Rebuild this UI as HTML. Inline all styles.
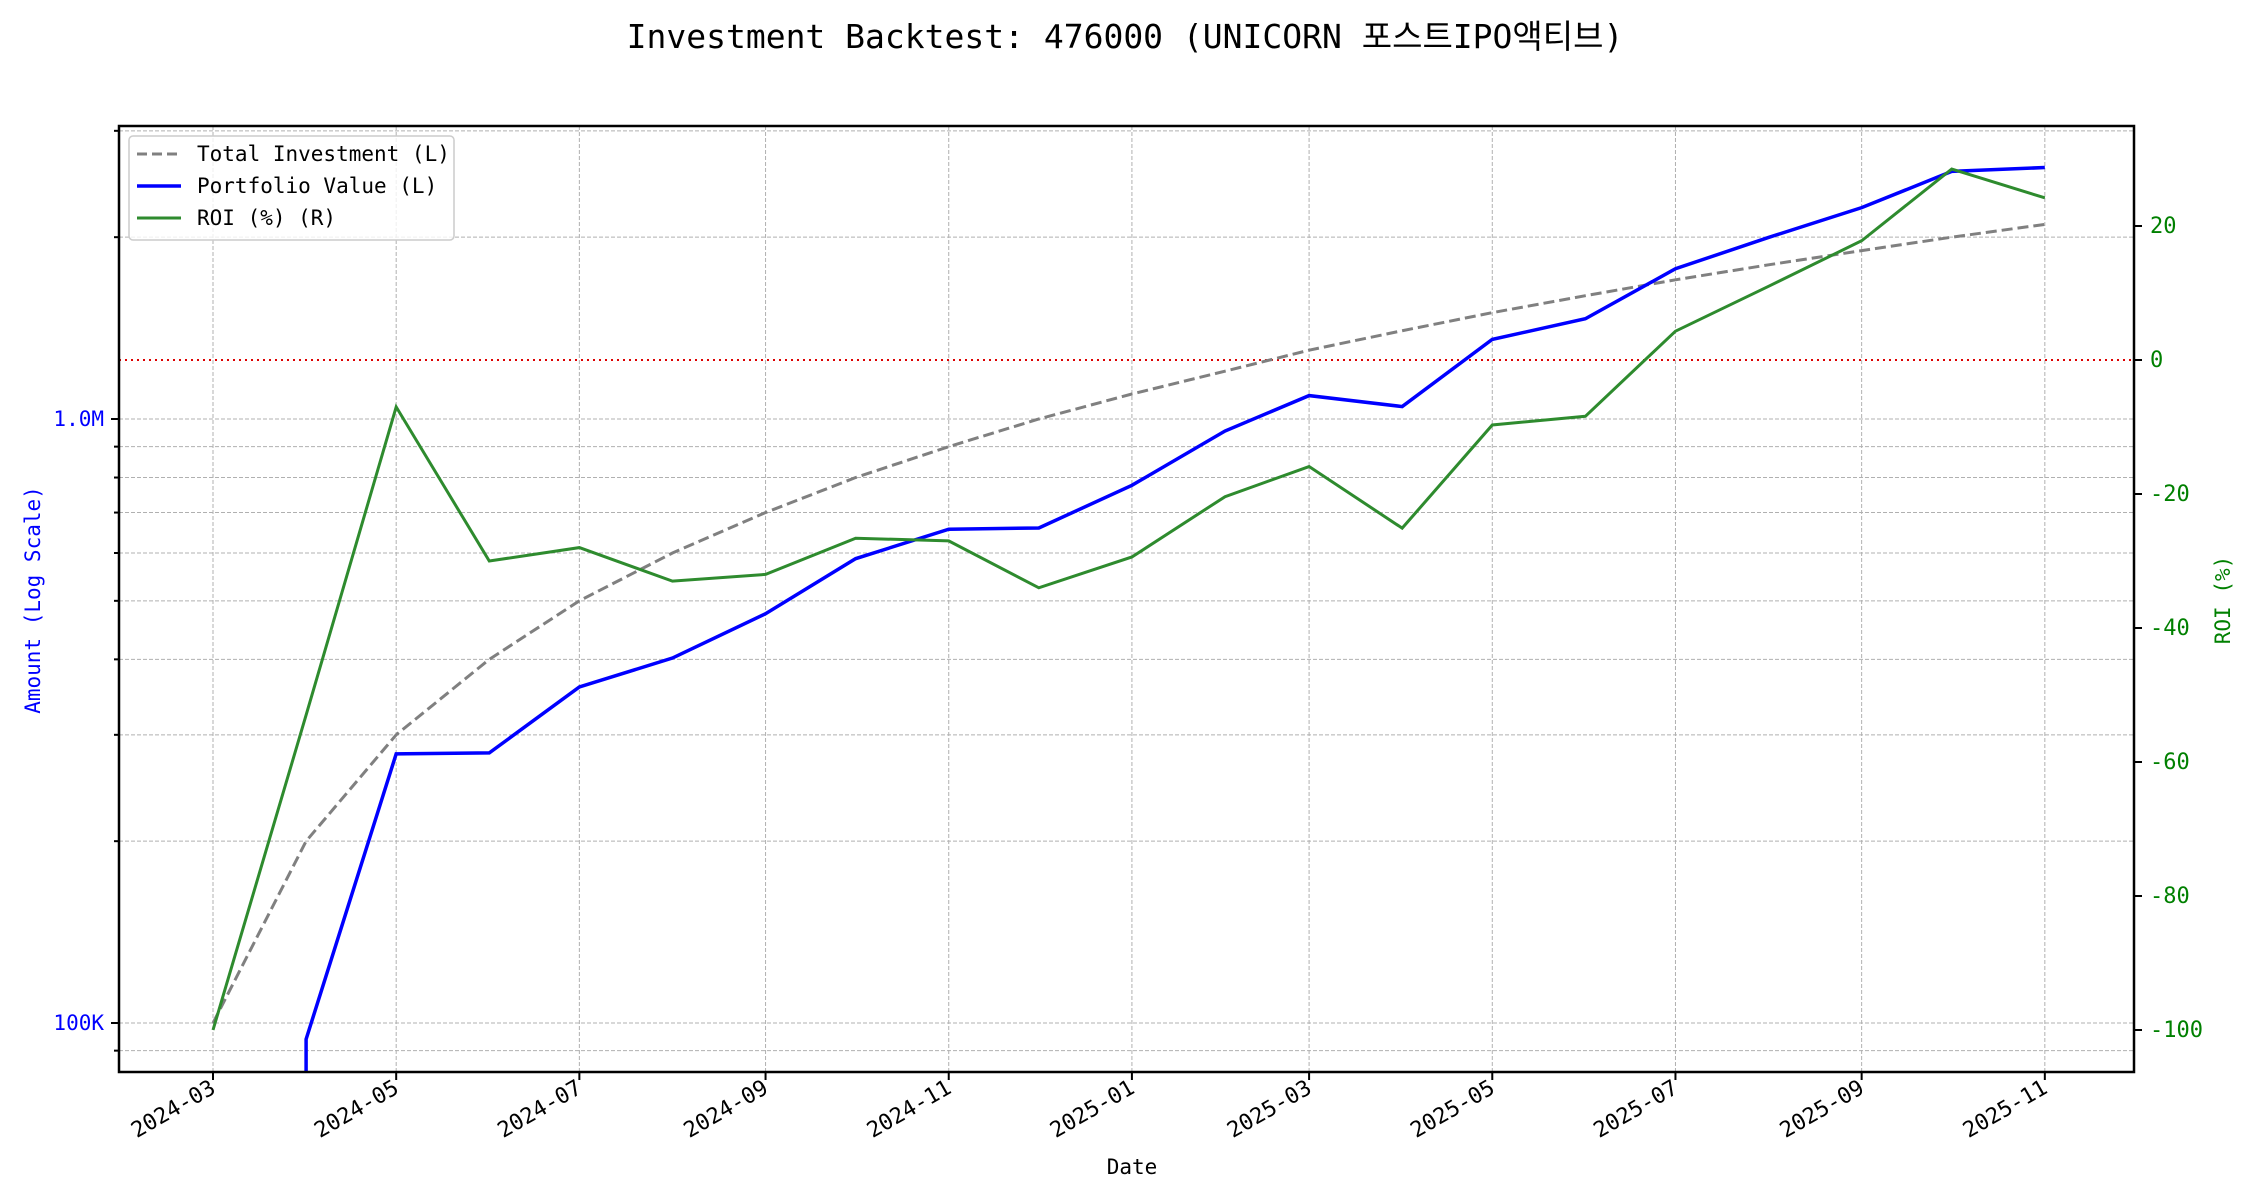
<!DOCTYPE html>
<html><head><meta charset="utf-8"><style>
html,body{margin:0;padding:0;background:#fff;overflow:hidden;width:2250px;height:1200px;}
svg{display:block;font-family:"DejaVu Sans Mono","Liberation Mono","Noto Sans CJK KR",monospace;}
</style></head><body>
<svg id="s" width="2250" height="1200" viewBox="0 0 2250 1200" xmlns="http://www.w3.org/2000/svg">
<rect width="2250" height="1200" fill="#fff"/>
<text x="1125" y="48" text-anchor="middle" font-size="33" font-family="'DejaVu Sans Mono','Noto Sans CJK KR',monospace">Investment Backtest: 476000 (UNICORN 포스트IPO액티브)</text>
<defs><clipPath id="c"><rect x="119" y="126" width="2015" height="946"/></clipPath></defs>
<g id="grid"></g>
<g id="series" clip-path="url(#c)"></g>
<rect x="119" y="126" width="2015" height="946" fill="none" stroke="#000" stroke-width="2.5"/>
<g id="ticks"></g>
<g id="legend">
<rect x="129" y="136" width="325" height="104" rx="4" fill="#fff" fill-opacity="0.8" stroke="#ccc" stroke-width="1.5"/>
<line x1="137" y1="154" x2="181" y2="154" stroke="#808080" stroke-width="3" stroke-dasharray="10,5"/>
<line x1="137" y1="186" x2="181" y2="186" stroke="#0000ff" stroke-width="3.5"/>
<line x1="137" y1="218" x2="181" y2="218" stroke="#2e8b2e" stroke-width="3"/>
<text x="197" y="161" font-size="21">Total Investment (L)</text>
<text x="197" y="193" font-size="21">Portfolio Value (L)</text>
<text x="197" y="225" font-size="21">ROI (%) (R)</text>
</g>
<text transform="translate(40,600) rotate(-90)" text-anchor="middle" font-size="21" fill="#0000ff">Amount (Log Scale)</text>
<text transform="translate(2230,600) rotate(-90)" text-anchor="middle" font-size="21" fill="#008000">ROI (%)</text>
<text x="1132" y="1174" text-anchor="middle" font-size="21">Date</text>
</svg>
<script>
(function(){
var NS="http://www.w3.org/2000/svg";
function el(p,t,a,txt){var e=document.createElementNS(NS,t);for(var k in a)e.setAttribute(k,a[k]);if(txt!==undefined)e.textContent=txt;document.getElementById(p).appendChild(e);return e;}
var base=Date.UTC(2024,2,1);
function X(y,m){return 213+3.003*(Date.UTC(y,m,1)-base)/86400000;}
function YL(v){return 1023-604*Math.log10(v/1e5);}
function YR(r){return 360-6.7*r;}
var xt=[[2024,2],[2024,4],[2024,6],[2024,8],[2024,10],[2025,0],[2025,2],[2025,4],[2025,6],[2025,8],[2025,10]];
xt.forEach(function(d){var x=X(d[0],d[1]);
el("grid","line",{x1:x,y1:126,x2:x,y2:1072,stroke:"#b0b0b0","stroke-width":1,"stroke-dasharray":"4,2"});
el("ticks","line",{x1:x,y1:1072,x2:x,y2:1080,stroke:"#000","stroke-width":2});
var lab=d[0]+"-"+(d[1]+1<10?"0":"")+(d[1]+1);
el("ticks","text",{transform:"translate("+(x+4)+",1092) rotate(-30)","text-anchor":"end","font-size":22},lab);
});
var vals=[9e4,1e5,2e5,3e5,4e5,5e5,6e5,7e5,8e5,9e5,1e6,2e6,3e6];
vals.forEach(function(v){var y=YL(v);if(y<126||y>1072)return;
el("grid","line",{x1:119,y1:y,x2:2134,y2:y,stroke:"#b0b0b0","stroke-width":1,"stroke-dasharray":"4,2"});
var major=(v==1e5||v==1e6);
el("ticks","line",{x1:major?111:114,y1:y,x2:119,y2:y,stroke:"#000","stroke-width":2});
});
el("ticks","text",{x:104,y:YL(1e5)+7,"text-anchor":"end","font-size":21,fill:"#0000ff"},"100K");
el("ticks","text",{x:104,y:YL(1e6)+7,"text-anchor":"end","font-size":21,fill:"#0000ff"},"1.0M");
[20,0,-20,-40,-60,-80,-100].forEach(function(r){var y=YR(r);
el("ticks","line",{x1:2134,y1:y,x2:2142,y2:y,stroke:"#000","stroke-width":2});
el("ticks","text",{x:2150,y:y+7,"font-size":22,fill:"#008000"},String(r));
});
el("series","line",{x1:119,y1:360,x2:2134,y2:360,stroke:"#dd0000","stroke-width":2,"stroke-dasharray":"2,4"});
var roi=[-100,-53,-7,-30,-28,-33,-32,-26.6,-27,-34,-29.4,-20.4,-15.9,-25.1,-9.7,-8.4,4.3,11,17.8,28.5,24.2];
var inv=[],pv=[],rp=[],xs=[];
for(var i=0;i<21;i++){var x=X(2024,2+i);xs.push(x);var iv=1e5*(i+1);
inv.push(x+","+YL(iv));rp.push(x+","+YR(roi[i]));
if(i>0)pv.push(x+","+YL(iv*(1+roi[i]/100)));}
pv.unshift(xs[1]+",1300");
el("series","polyline",{points:inv.join(" "),fill:"none",stroke:"#808080","stroke-width":3,"stroke-dasharray":"11,5"});
el("series","polyline",{points:pv.join(" "),fill:"none",stroke:"#0000ff","stroke-width":3.5});
el("series","polyline",{points:rp.join(" "),fill:"none",stroke:"#2e8b2e","stroke-width":3});
})();
</script>
</body></html>
